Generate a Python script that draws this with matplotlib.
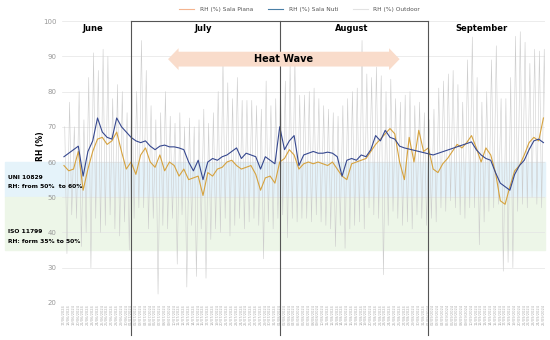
import numpy as np
import pandas as pd
import matplotlib
matplotlib.use("Agg")
import matplotlib.pyplot as plt
import matplotlib.dates as mdates
from matplotlib.patches import Polygon

# daily readings, 17/06/2024 .. 25/09/2024
days = pd.date_range("2024-06-17", "2024-09-25", freq="D")

sala_nuti = [
    61.5, 62.5, 63.5, 64.5, 56.0, 63.0, 66.0, 72.5, 68.5, 67.0,
    66.5, 72.5, 70.0, 68.5, 67.0, 66.0, 65.5, 66.0, 64.5, 63.5,
    64.5, 64.8, 64.3, 64.3, 64.0, 63.5, 60.0, 57.5, 60.5, 55.0,
    60.0, 61.0, 60.5, 61.5, 62.0, 63.0, 64.0, 61.0, 62.5, 62.0,
    61.5, 58.0, 61.5, 60.5, 59.5, 70.0, 63.5, 66.0, 67.5, 59.0,
    62.0, 62.5, 63.0, 62.5, 62.5, 62.8, 62.5, 61.5, 56.0, 60.5,
    61.0, 60.5, 62.0, 61.5, 63.5, 67.5, 66.0, 69.0, 67.0, 66.5,
    64.5, 64.0, np.nan, np.nan, np.nan, np.nan, np.nan, 62.0, np.nan, np.nan,
    np.nan, np.nan, np.nan, np.nan, np.nan, 65.7, 63.5, 62.0, 61.0, 60.5,
    57.0, 54.0, 53.0, 52.0, 56.5, 59.0, 60.5, 63.5, 66.0, 66.5,
    65.5,
]

sala_piana = [
    59.0, 57.5, 58.0, 63.0, 52.0, 58.0, 63.0, 66.5, 67.0, 65.0,
    66.0, 68.5, 63.0, 58.0, 60.0, 56.5, 62.0, 64.0, 60.0, 58.5,
    62.0, 57.5, 60.0, 59.0, 56.0, 58.0, 55.0, 55.5, 56.0, 50.5,
    57.0, 56.0, 58.0, 58.5, 60.0, 60.5, 59.0, 58.0, 58.5, 59.0,
    56.5, 52.0, 55.5, 56.0, 54.0, 60.0, 61.0, 63.5, 62.0, 58.0,
    59.5, 60.0, 59.5, 60.0, 59.5, 59.0, 60.0, 58.0, 56.0, 55.0,
    59.5, 60.0, 60.5, 61.0, 63.0, 65.0, 66.5, 68.0, 69.5, 68.0,
    60.0, 55.0, 67.0, 60.0, 69.0, 63.0, 64.0, 58.0, 57.0, 59.5,
    61.0, 63.0, 65.0, 64.0, 65.5, 67.5, 64.0, 60.0, 64.0, 62.0,
    57.0, 49.0, 48.0, 53.0, 57.5, 59.0, 62.0, 65.5, 67.0, 66.0,
    72.5,
]

outdoor_max = [
    70, 77, 70, 80, 72, 84, 91, 86, 92, 90,
    78, 82, 80, 74, 86, 80, 94.5, 86, 76, 72,
    74, 80, 73, 71, 74, 70, 72.5, 70, 72, 75,
    71, 74, 80, 89, 82.5, 78, 84, 77.5, 77.5, 77.5,
    76, 75, 83, 76, 78, 82, 83, 87.5, 89, 79,
    79, 80, 81, 78, 76, 75, 74, 73, 76, 78,
    80, 81, 94.5, 85, 84, 87, 84.5, 80, 83.5, 78,
    77, 79, 80, 76, 77, 74, 72, 75, 81, 83,
    85, 86, 82, 77, 89, 95.5, 84, 77, 80, 89,
    93, 78, 78, 84, 95.7, 97, 94, 88, 92, 91.5,
    92,
]

outdoor_min = [
    34, 45, 44, 36, 40, 30, 44, 40, 42, 45,
    41, 39, 43, 35, 44, 47, 47, 41, 44, 22.5,
    42, 41, 44, 31, 45, 24.5, 42, 27.5, 41, 27,
    38, 41, 40, 44, 39, 42, 44, 41, 43, 44,
    42, 32.5, 43, 41, 44, 45, 38.5, 44, 43, 44,
    44, 43, 45, 43, 42, 41, 36, 42, 35.5, 41,
    42, 43, 41, 47, 45, 44, 28, 42, 46, 44,
    42, 43, 41, 45, 44, 42, 44, 43, 47, 46,
    49, 47, 45, 44, 47, 47, 36.5, 43, 46, 47,
    48, 29, 31.5, 30, 46, 48, 47, 50, 48, 47,
    48,
]

months = ["June", "July", "August", "September"]
month_label_dates = ["2024-06-23", "2024-07-16", "2024-08-16", "2024-09-12"]
month_edges = ["2024-07-01", "2024-08-01", "2024-09-01"]
heat_wave = ("2024-07-08 17:00", "2024-08-26 00:00")

C_PIANA = "#d6a23e"
C_PIANA_LEG = "#f4b48f"
C_NUTI = "#36488f"
C_OUT = "#cdcdcd"

fig = plt.figure(figsize=(5.5, 3.4), dpi=100)
ax = fig.add_axes([0.113, 0.109, 0.878, 0.829])

# outdoor: night peak / afternoon trough for each day
t_out = []
v_out = []
for d, hi, lo in zip(days, outdoor_max, outdoor_min):
    t_out += [d + pd.Timedelta(hours=4), d + pd.Timedelta(hours=15)]
    v_out += [hi, lo]

# comfort bands, stretched to the left edge of the picture
ax.axhspan(50, 60, xmin=-0.118, xmax=1, color="#e5f3fa", zorder=0, clip_on=False)
ax.axhspan(35, 50, xmin=-0.118, xmax=1, color="#edf6e8", zorder=0, clip_on=False)

ax.plot(t_out, v_out, color=C_OUT, lw=0.4, zorder=2)

piana = np.array(sala_piana, dtype=float)
nuti = np.array(sala_nuti, dtype=float)
ok = ~np.isnan(piana)
ax.plot(days[ok], piana[ok], color=C_PIANA, lw=0.8, zorder=3)
ok = ~np.isnan(nuti)
ax.plot(days[ok], nuti[ok], color=C_NUTI, lw=0.8, zorder=4)

ax.set_ylim(20, 100)
ax.set_xlim(days[0] - pd.Timedelta(hours=9), days[-1] + pd.Timedelta(hours=8))
ax.set_yticks(range(20, 101, 10))
ax.grid(axis="y", color="#e4e4e4", lw=0.5)
ax.set_axisbelow(True)
for s in ax.spines.values():
    s.set_visible(False)
ax.tick_params(axis="y", length=0, labelsize=5, labelcolor="#999999", pad=4)
ax.set_ylabel("RH (%)", fontsize=5.5, fontweight="bold")
ax.yaxis.set_label_coords(-0.036, 0.555)

ax.set_xticks(days)
ax.xaxis.set_major_formatter(mdates.DateFormatter("%d/%m/%Y"))
ax.tick_params(axis="x", length=0, labelsize=2.6, labelcolor="#aaaaaa",
               rotation=90, pad=1)

# month boxes
edges = pd.to_datetime(month_edges)
for e in edges:
    ax.plot([e, e], [11, 100], color="#555555", lw=0.8, clip_on=False, zorder=5)
ax.plot([edges[0], edges[-1]], [100, 100], color="#555555", lw=0.8,
        clip_on=False, zorder=5)
for m, d in zip(months, pd.to_datetime(month_label_dates)):
    ax.text(d, 98, m, ha="center", va="center", fontsize=6, fontweight="bold")

# heat wave double arrow
x0 = mdates.date2num(pd.Timestamp(heat_wave[0]))
x1 = mdates.date2num(pd.Timestamp(heat_wave[1]))
yc, hb, hh, hl = 89.2, 2.1, 3.1, 2.2
arrow = Polygon([(x0, yc), (x0 + hl, yc + hh), (x0 + hl, yc + hb),
                 (x1 - hl, yc + hb), (x1 - hl, yc + hh), (x1, yc),
                 (x1 - hl, yc - hh), (x1 - hl, yc - hb), (x0 + hl, yc - hb),
                 (x0 + hl, yc - hh)], closed=True, fc="#f9dccb", ec="none", zorder=5)
ax.add_patch(arrow)
ax.text((x0 + x1) / 2, yc, "Heat Wave", ha="center", va="center",
        fontsize=7, fontweight="bold", zorder=6)

# standards
for y, s in [(0.479, "UNI 10829"), (0.450, "RH: from 50%  to 60%"),
             (0.318, "ISO 11799"), (0.291, "RH: form 35% to 50%")]:
    fig.text(0.015, y, s, fontsize=4.3, fontweight="bold", va="center")

# legend
h1, = ax.plot([], [], color=C_PIANA_LEG, lw=0.8)
h2, = ax.plot([], [], color="#4a7fa6", lw=0.8)
h3, = ax.plot([], [], color="#e2e2e2", lw=0.8)
fig.legend([h1, h2, h3], ["RH (%) Sala Piana", "RH (%) Sala Nuti", "RH (%) Outdoor"],
           loc="center", bbox_to_anchor=(0.545, 0.973), ncol=3, frameon=False,
           fontsize=4.2, labelcolor="#555555", handlelength=2.6, columnspacing=2.6,
           handletextpad=0.9)

fig.savefig("out.png", dpi=100)
